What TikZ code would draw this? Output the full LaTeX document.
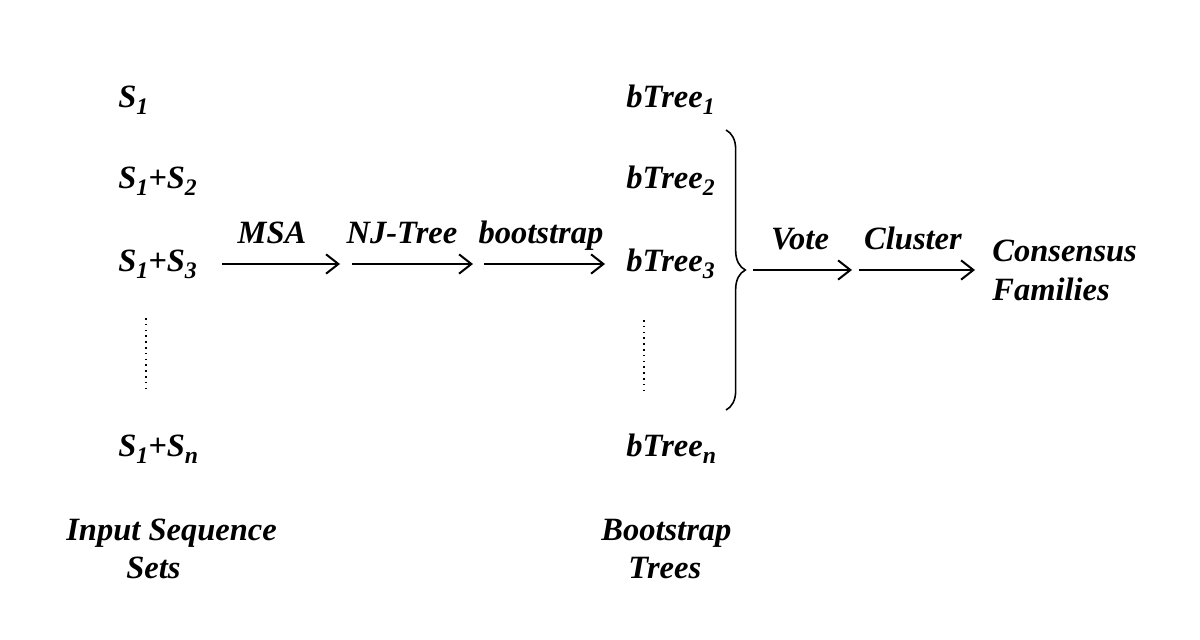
\documentclass[tikz,border=0pt]{standalone}
\usepackage{fontspec}
\setmainfont{Liberation Serif}
\usetikzlibrary{arrows.meta,decorations.pathreplacing}
\newcommand{\sub}[1]{\raisebox{-0.24em}{\fontsize{13.5}{14}\selectfont #1}}
\begin{document}
\begin{tikzpicture}[x=0.02cm,y=-0.02cm,
  lbl/.style={font=\fontsize{18.5}{21}\selectfont\bfseries\itshape, inner sep=0pt},
  flow/.style={line width=1.15pt, -{Straight Barb[length=7pt,width=11pt,line width=1.15pt]}},
  vdots/.style={line width=1.2pt, dash pattern=on 0.9pt off 2.4pt},
  curly/.style={line width=0.9pt, decorate, decoration={brace, amplitude=11pt}}]
\useasboundingbox (0,0) rectangle (1200,639);
% left column
\node[lbl, anchor=base west] (s1) at (118,107) {S\sub{1}};
\node[lbl, anchor=base west] (s2) at (118,188) {S\sub{1}+S\sub{2}};
\node[lbl, anchor=base west] (s3) at (118,271) {S\sub{1}+S\sub{3}};
\node[lbl, anchor=base west] (sn) at (118,456) {S\sub{1}+S\sub{n}};
\coordinate (ld1) at (146,318);
\coordinate (ld2) at (146,392);
\draw[vdots] (ld1) -- (ld2);
\node[lbl, anchor=base west] (in1) at (66,540) {Input Sequence};
\node[lbl, anchor=base west] (in2) at (126,578) {Sets};
% right column
\node[lbl, anchor=base west] (b1) at (626,107) {bTree\sub{1}};
\node[lbl, anchor=base west] (b2) at (626,188) {bTree\sub{2}};
\node[lbl, anchor=base west] (b3) at (626,271) {bTree\sub{3}};
\node[lbl, anchor=base west] (bn) at (626,456) {bTree\sub{n}};
\coordinate (rd1) at (644,320);
\coordinate (rd2) at (644,394);
\draw[vdots] (rd1) -- (rd2);
\node[lbl, anchor=base west] (bt1) at (601,540) {Bootstrap};
\node[lbl, anchor=base west] (bt2) at (628,578) {Trees};
% arrows
\coordinate (a1s) at (222,264);
\coordinate (a1e) at (340,264);
\coordinate (a2s) at (352,264);
\coordinate (a2e) at (473,264);
\coordinate (a3s) at (484,264);
\coordinate (a3e) at (605,264);
\draw[flow] (a1s) -- (a1e);
\draw[flow] (a2s) -- (a2e);
\draw[flow] (a3s) -- (a3e);
\node[lbl, anchor=base] (msa) at (272,243) {MSA};
\node[lbl, anchor=base] (nj) at (402,243) {NJ-Tree};
\node[lbl, anchor=base] (bs) at (541,243) {bootstrap};
% brace
\coordinate (bra1) at (726,130);
\coordinate (bra2) at (726,410);
\draw[curly] (bra1) -- (bra2);
\coordinate (v1) at (753,270);
\coordinate (v2) at (852,270);
\coordinate (c1) at (859,270);
\coordinate (c2) at (975,270);
\draw[flow] (v1) -- (v2);
\draw[flow] (c1) -- (c2);
\node[lbl, anchor=base] (vote) at (800,249) {Vote};
\node[lbl, anchor=base] (clu) at (913,249) {Cluster};
\node[lbl, anchor=base west] (cons) at (992,261) {Consensus};
\node[lbl, anchor=base west] (fam) at (992,300) {Families};
\end{tikzpicture}
\end{document}
